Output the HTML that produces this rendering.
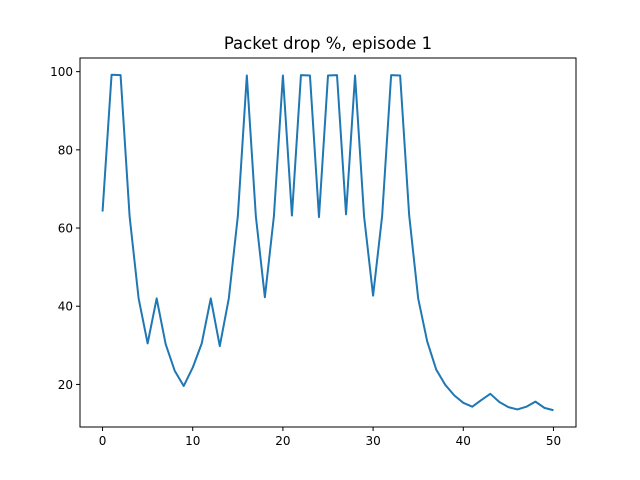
<!DOCTYPE html>
<html><head><meta charset="utf-8"><style>body{margin:0;background:#fff}svg{display:block;font-family:"DejaVu Sans","Liberation Sans",sans-serif}</style></head>
<body>
<svg id="chart" width="640" height="480">
<rect width="640" height="480" fill="#fff"/>
<text x="328" y="49" text-anchor="middle" font-size="16.5">Packet drop %, episode 1</text>
<g id="xt"></g><g id="yt"></g>
<polyline id="line" fill="none" stroke="#1f77b4" stroke-width="2" stroke-linejoin="round"/>
<rect x="80" y="58" width="496" height="369" fill="none" stroke="#000" stroke-width="1"/>
</svg>
<script>
const episodes = [0,1,2,3,4,5,6,7,8,9,10,11,12,13,14,15,16,17,18,19,20,21,22,23,24,25,26,27,28,29,30,31,32,33,34,35,36,37,38,39,40,41,42,43,44,45,46,47,48,49,50];
const dropValues = [64.2,99.2,99.1,63,42,30.5,42,30.3,23.5,19.6,24.3,30.5,42,29.8,42,63,99,63,42.3,63,99,63.2,99.1,99,62.8,99,99.1,63.5,99,63,42.7,63,99.1,99,63.3,42,31,23.8,19.9,17.2,15.3,14.3,16,17.6,15.5,14.2,13.6,14.3,15.6,14,13.4];
const xTicks = [0,10,20,30,40,50];
const yTicks = [20,40,60,80,100];
const L=80,R=576,T=58,B=427;
const xmin=-2.5,xmax=52.5;
const dmin=Math.min(...dropValues),dmax=Math.max(...dropValues),pad=(dmax-dmin)*0.05;
const ymin=dmin-pad,ymax=dmax+pad;
const sx=v=>L+(v-xmin)/(xmax-xmin)*(R-L);
const sy=v=>B-(v-ymin)/(ymax-ymin)*(B-T);
const ns="http://www.w3.org/2000/svg";
const line=document.getElementById('line');
line.setAttribute('points',episodes.map((e,i)=>sx(e)+','+sy(dropValues[i])).join(' '));
const xt=document.getElementById('xt'),yt=document.getElementById('yt');
xTicks.forEach(t=>{
 const l=document.createElementNS(ns,'line');
 l.setAttribute('x1',sx(t));l.setAttribute('x2',sx(t));l.setAttribute('y1',B);l.setAttribute('y2',B+4);l.setAttribute('stroke','#000');
 
 
 xt.appendChild(l);
 const s=document.createElementNS(ns,'text');
 s.setAttribute('x',sx(t));s.setAttribute('y',B+18);s.setAttribute('text-anchor','middle');s.setAttribute('font-size','12');s.textContent=t;
 
 
 xt.appendChild(s);
});
yTicks.forEach(t=>{
 const l=document.createElementNS(ns,'line');
 l.setAttribute('x1',L-4);l.setAttribute('x2',L);l.setAttribute('y1',sy(t));l.setAttribute('y2',sy(t));l.setAttribute('stroke','#000');
 
 
 yt.appendChild(l);
 const s=document.createElementNS(ns,'text');
 s.setAttribute('x',L-7);s.setAttribute('y',sy(t)+4.5);s.setAttribute('text-anchor','end');s.setAttribute('font-size','12');s.textContent=t;
 
 
 yt.appendChild(s);
});
</script>
</body></html>
